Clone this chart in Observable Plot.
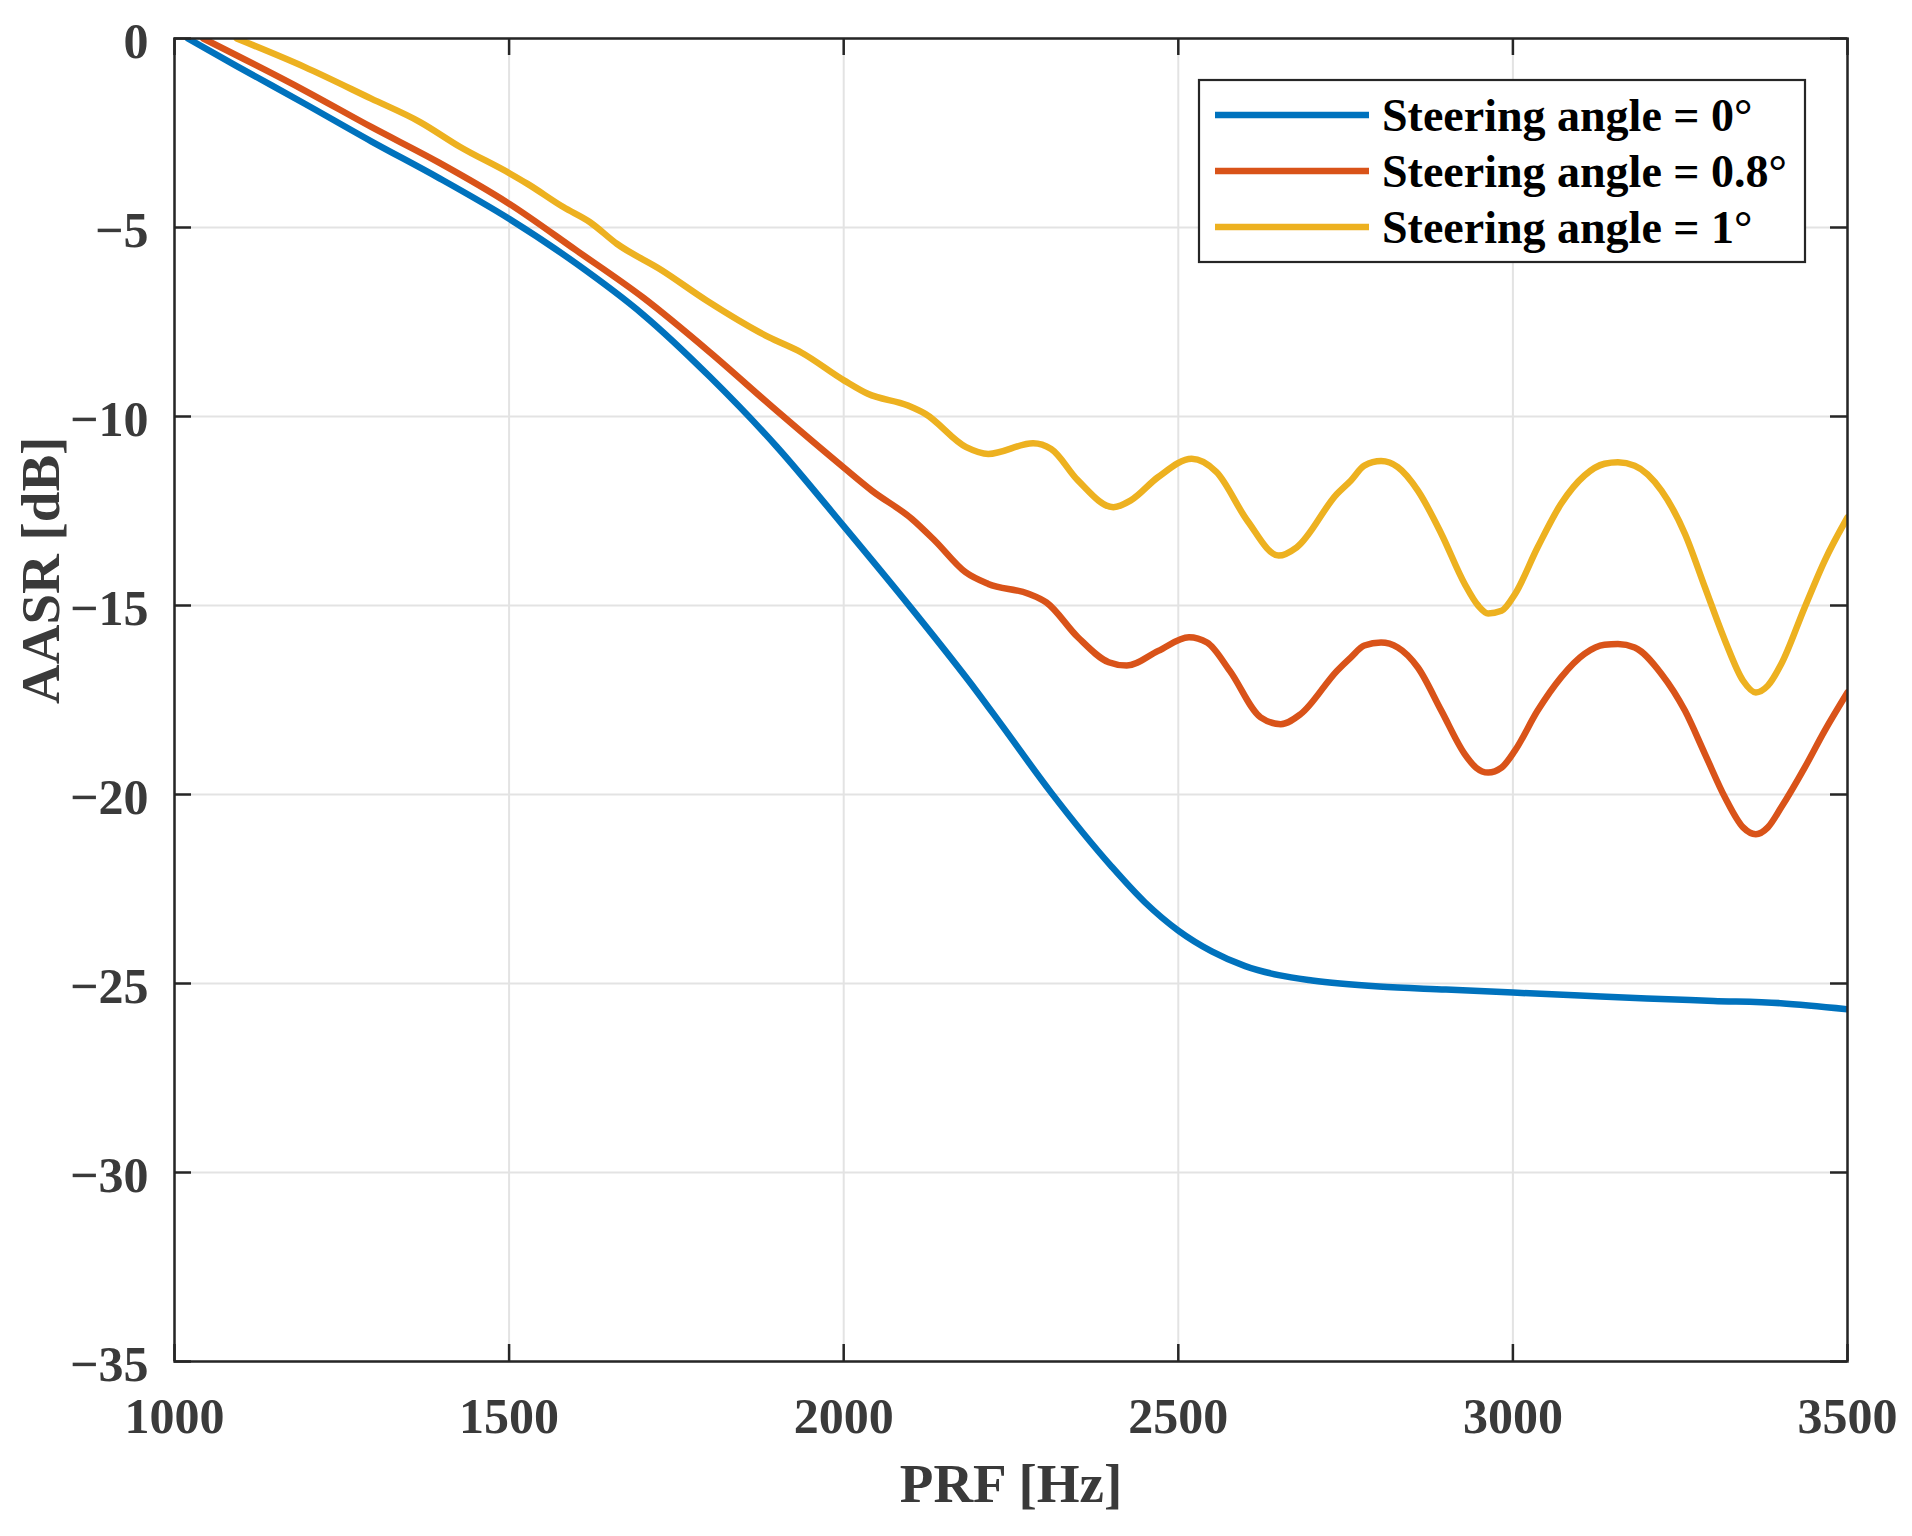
<!DOCTYPE html>
<html>
<head>
<meta charset="utf-8">
<script src="https://cdn.jsdelivr.net/npm/d3@7"></script>
<script src="https://cdn.jsdelivr.net/npm/@observablehq/plot@0.6"></script>
<style>
  body { margin: 0; background: #fff; }
  #chart { width: 1912px; height: 1536px; }
</style>
</head>
<body>
<div id="chart"></div>
<script>
const seriesNames = ["Steering angle = 0°", "Steering angle = 0.8°", "Steering angle = 1°"];
const seriesColors = ["#0072BD", "#D95319", "#EDB120"];
const xTicks = [1000, 1500, 2000, 2500, 3000, 3500];
const yTicks = [0, -5, -10, -15, -20, -25, -30, -35];

// Steering angle = 0°
const prf0 = [1020,1093,1194,1294,1394,1500,1600,1700,1800,1900,2000,2100,2200,2235,2310,2400,2450,2500,2550,2600,2650,2700,2800,2900,3000,3100,3200,3300,3400,3500];
const aasr0 = [0,-0.73,-1.72,-2.72,-3.68,-4.77,-5.95,-7.3,-8.95,-10.8,-12.9,-15.05,-17.3,-18.14,-19.95,-21.9,-22.85,-23.6,-24.15,-24.54,-24.78,-24.92,-25.08,-25.16,-25.24,-25.32,-25.4,-25.46,-25.52,-25.68];

// Steering angle = 0.8°
const prf1 = [1043,1194,1294,1394,1500,1600,1700,1800,1900,2000,2042,2102,2136,2182,2216,2276,2303,2350,2396,2423,2470,2516,2543,2577,2623,2653,2683,2737,2758,2778,2803,2828,2858,2893,2928,2945,2963,2983,3003,3037,3072,3107,3137,3157,3182,3222,3257,3287,3317,3344,3363,3381,3401,3436,3466,3500];
const aasr1 = [0,-1.37,-2.34,-3.27,-4.37,-5.6,-6.85,-8.3,-9.85,-11.35,-11.96,-12.71,-13.28,-14.12,-14.43,-14.69,-14.92,-15.84,-16.5,-16.59,-16.2,-15.84,-15.98,-16.73,-17.96,-18.14,-17.87,-16.73,-16.37,-16.06,-15.98,-16.11,-16.64,-17.78,-18.93,-19.29,-19.42,-19.29,-18.84,-17.78,-16.9,-16.28,-16.04,-16.02,-16.11,-16.81,-17.78,-18.93,-20.08,-20.87,-21.05,-20.87,-20.34,-19.29,-18.31,-17.3];

// Steering angle = 1°
const prf2 = [1093,1194,1294,1367,1427,1501,1527,1581,1621,1661,1728,1795,1888,1936,2001,2036,2096,2122,2183,2216,2283,2310,2350,2403,2429,2470,2520,2557,2603,2650,2677,2737,2758,2778,2803,2828,2858,2893,2928,2948,2963,2983,3003,3037,3072,3107,3137,3157,3182,3222,3257,3287,3317,3344,3363,3381,3401,3436,3466,3500];
const aasr2 = [0,-0.75,-1.59,-2.21,-2.87,-3.57,-3.84,-4.46,-4.86,-5.43,-6.13,-6.93,-7.9,-8.3,-9.05,-9.4,-9.71,-9.93,-10.81,-10.99,-10.71,-10.86,-11.69,-12.4,-12.22,-11.6,-11.12,-11.47,-12.75,-13.68,-13.46,-12.05,-11.69,-11.3,-11.18,-11.34,-11.96,-13.1,-14.43,-15.0,-15.21,-15.14,-14.7,-13.46,-12.31,-11.56,-11.25,-11.21,-11.3,-11.96,-13.1,-14.52,-15.93,-16.99,-17.3,-17.12,-16.55,-15.05,-13.81,-12.67];

const xs = [prf0, prf1, prf2];
const ys = [aasr0, aasr1, aasr2];
const data = [];
seriesNames.forEach((name, i) => {
  xs[i].forEach((x, j) => data.push({series: name, prf: x, aasr: ys[i][j]}));
});

const W = 1912, H = 1536;
const mL = 174, mR = 65, mT = 38, mB = 175;
const plotW = W - mL - mR, plotH = H - mT - mB;
const tickLen = 17;
const axisColor = "#262626";
const textColor = "#3a3a3a";
const fontFamily = "'Liberation Serif', 'Times New Roman', serif";
const fmtY = d => d < 0 ? "\u2212" + (-d) : String(d);

const chart = Plot.plot({
  width: W, height: H,
  marginLeft: mL, marginRight: mR, marginTop: mT, marginBottom: mB,
  style: {fontFamily, background: "#fff", overflow: "visible"},
  x: {domain: [1000, 3500]},
  y: {domain: [-35, 0]},
  color: {domain: seriesNames, range: seriesColors},
  marks: [
    Plot.gridX(xTicks, {stroke: "#e3e3e3", strokeOpacity: 1, strokeWidth: 2}),
    Plot.gridY(yTicks, {stroke: "#e3e3e3", strokeOpacity: 1, strokeWidth: 2}),
    Plot.line(data, {x: "prf", y: "aasr", z: "series", stroke: "series", strokeWidth: 6.5, strokeLinejoin: "round", curve: "monotone-x", clip: true}),
    Plot.ruleX(xTicks, {x: d => d, insetTop: plotH - tickLen, stroke: axisColor, strokeWidth: 2.5}),
    Plot.ruleX(xTicks, {x: d => d, insetBottom: plotH - tickLen, stroke: axisColor, strokeWidth: 2.5}),
    Plot.ruleY(yTicks, {y: d => d, insetRight: plotW - tickLen, stroke: axisColor, strokeWidth: 2.5}),
    Plot.ruleY(yTicks, {y: d => d, insetLeft: plotW - tickLen, stroke: axisColor, strokeWidth: 2.5}),
    Plot.frame({stroke: axisColor, strokeWidth: 2.5}),
    Plot.axisX({ticks: xTicks, tickSize: 0, tickPadding: 36, tickFormat: d => String(d), fontSize: 50, fontWeight: "bold", color: textColor, label: null}),
    Plot.axisY({ticks: yTicks, tickSize: 0, tickPadding: 26, tickFormat: fmtY, fontSize: 50, fontWeight: "bold", color: textColor, dy: 3, label: null}),
    Plot.text(["PRF [Hz]"], {text: d => d, frameAnchor: "bottom", dy: 123, lineAnchor: "middle", fontSize: 55, fontWeight: "bold", fill: textColor}),
    Plot.text(["AASR [dB]"], {text: d => d, frameAnchor: "left", dx: -133, dy: 4, rotate: -90, lineAnchor: "middle", fontSize: 55, fontWeight: "bold", fill: textColor})
  ]
});

document.getElementById("chart").appendChild(chart);

// Legend (inside the axes, top-right)
const svg = d3.select(chart);
const lg = svg.append("g").attr("class", "legend");
const box = {x: 1199, y: 80, w: 606, h: 182};
lg.append("rect").attr("x", box.x).attr("y", box.y).attr("width", box.w).attr("height", box.h)
  .attr("fill", "#fff").attr("stroke", axisColor).attr("stroke-width", 2.2);
seriesNames.forEach((name, i) => {
  const cy = 115 + i * 56;
  lg.append("line").attr("x1", 1215).attr("x2", 1369).attr("y1", cy).attr("y2", cy)
    .attr("stroke", seriesColors[i]).attr("stroke-width", 6.5);
  lg.append("text").attr("x", 1382).attr("y", cy).attr("dy", "0.35em")
    .attr("text-anchor", "start")
    .attr("font-family", fontFamily).attr("font-weight", "bold").attr("font-size", 46)
    .attr("fill", "#000").text(name);
});
</script>
</body>
</html>
